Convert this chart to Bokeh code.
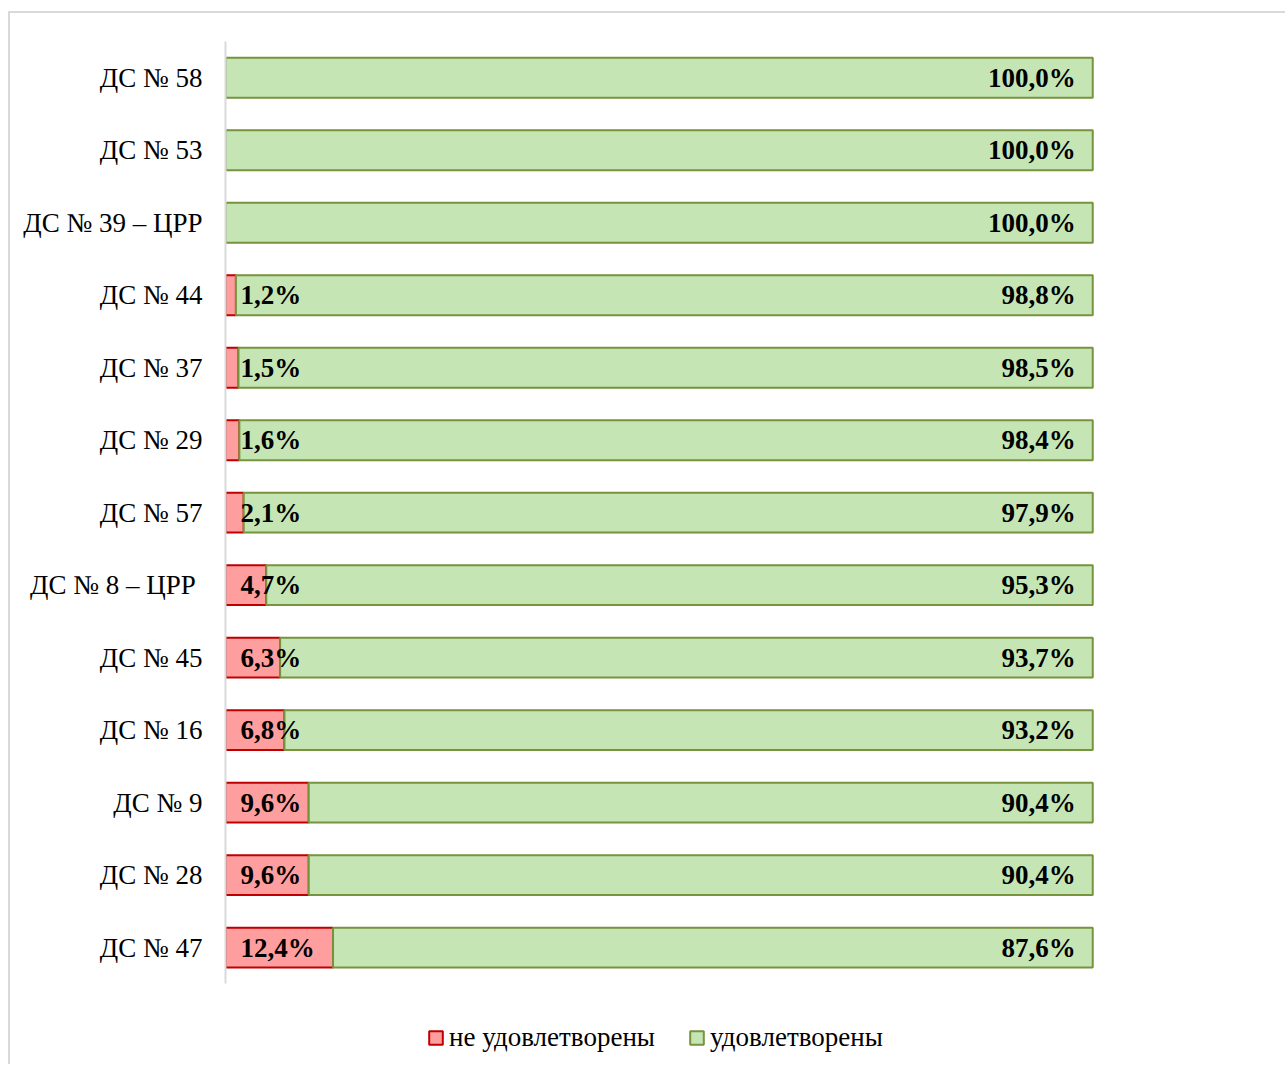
from bokeh.plotting import figure
from bokeh.models import (ColumnDataSource, Range1d, LabelSet, FixedTicker,
                          Legend, LegendItem)
from bokeh.embed import file_html
from bokeh.resources import INLINE

categories = ["ДС № 58", "ДС № 53", "ДС № 39 – ЦРР", "ДС № 44", "ДС № 37",
              "ДС № 29", "ДС № 57", "ДС № 8 – ЦРР\u00a0", "ДС № 45", "ДС № 16",
              "ДС № 9", "ДС № 28", "ДС № 47"]
not_satisfied = [0.0, 0.0, 0.0, 1.2, 1.5, 1.6, 2.1, 4.7, 6.3, 6.8, 9.6, 9.6, 12.4]
satisfied = [100.0, 100.0, 100.0, 98.8, 98.5, 98.4, 97.9, 95.3, 93.7, 93.2, 90.4, 90.4, 87.6]
series_names = ["не удовлетворены", "удовлетворены"]


def fmt(v):
    return f"{v:.1f}%".replace(".", ",")


n = len(categories)
pos = list(range(n))  # row index, top row first
total = [a + b for a, b in zip(not_satisfied, satisfied)]
src = ColumnDataSource(dict(
    pos=pos,
    cat=categories,
    no=not_satisfied,
    yes=satisfied,
    total=total,
    zero=[0.0] * n,
    no_lbl=[fmt(v) if v > 0 else "" for v in not_satisfied],
    yes_lbl=[fmt(v) for v in satisfied],
))

p = figure(width=1277, height=1053, output_backend="svg", toolbar_location=None,
           y_range=Range1d(n - 0.5 + 1.14, -0.5), x_range=Range1d(0, 116),
           min_border_left=215, min_border_right=56, min_border_top=28,
           min_border_bottom=0)
p.margin = (11, 0, 0, 8)
p.styles = {"border-top": "2px solid #D9D9D9", "border-left": "2px solid #D9D9D9"}
p.outline_line_color = None
p.xaxis.visible = False
p.xgrid.grid_line_color = None
p.ygrid.grid_line_color = None

red_fill, red_line = "#FF9E9E", "#C00000"
green_fill, green_line = "#C5E6B4", "#77933C"

r_no = p.hbar(y="pos", left="zero", right="no", height=0.55, source=src,
              fill_color=red_fill, line_color=red_line, line_width=2)
r_yes = p.hbar(y="pos", left="no", right="total", height=0.55, source=src,
               fill_color=green_fill, line_color=green_line, line_width=2)

yax = p.yaxis[0]
yax.ticker = FixedTicker(ticks=pos)
yax.major_label_overrides = {i: c for i, c in zip(pos, categories)}
yax.bounds = (-0.5, n - 0.5)
yax.axis_line_color = "#D9D9D9"
yax.axis_line_width = 2
yax.major_tick_line_color = None
yax.minor_tick_line_color = None
yax.major_label_standoff = 17
yax.major_label_text_font = "Liberation Serif"
yax.major_label_text_font_size = "27px"
yax.major_label_text_color = "#000000"

lbl_no = LabelSet(x="zero", y="pos", text="no_lbl", source=src, x_offset=15,
                  text_align="left", text_baseline="middle",
                  text_font="Liberation Serif", text_font_style="bold",
                  text_font_size="27px", text_color="#000000")
lbl_yes = LabelSet(x="total", y="pos", text="yes_lbl", source=src, x_offset=-17,
                   text_align="right", text_baseline="middle",
                   text_font="Liberation Serif", text_font_style="bold",
                   text_font_size="27px", text_color="#000000")
p.add_layout(lbl_no)
p.add_layout(lbl_yes)

legend = Legend(items=[LegendItem(label=series_names[0], renderers=[r_no]),
                       LegendItem(label=series_names[1], renderers=[r_yes])],
                orientation="horizontal", location=(202, 13),
                glyph_width=17, glyph_height=17, label_standoff=5, spacing=33,
                padding=0, margin=0, border_line_color=None,
                background_fill_alpha=0,
                label_text_font="Liberation Serif", label_text_font_size="27px",
                label_text_color="#000000")
p.add_layout(legend, "center")

open("out.html", "w").write(file_html(p, INLINE))
